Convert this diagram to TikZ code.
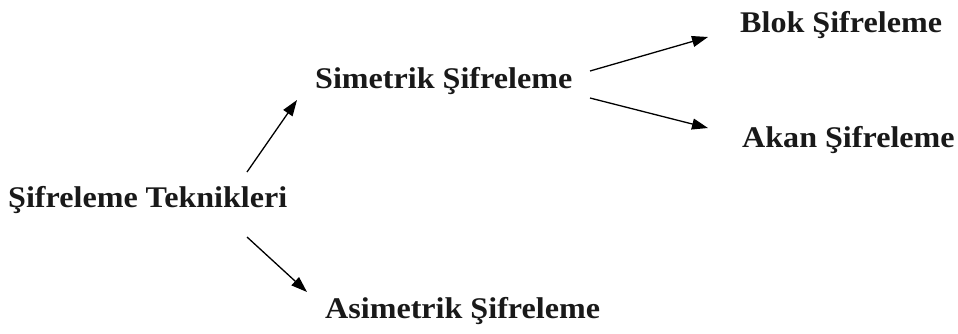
\documentclass[tikz,border=0pt]{standalone}
\usepackage{fontspec}
\setmainfont{Liberation Serif}[FakeStretch=1.07]
\usepackage{tikz}
\usetikzlibrary{arrows.meta}

\begin{document}
\begin{tikzpicture}[x=1pt,y=-1pt]
    \tikzstyle{n} = [inner sep=0pt,anchor=base west,text=black!90,font=\fontsize{30}{36}\selectfont\bfseries]
    \tikzstyle{r} = [draw,line width=1.3pt,-{Triangle[length=16pt,width=11pt]}]
    \useasboundingbox (0,0) rectangle (958,333);
    \node [n] (st)   at (8,207)   {Şifreleme Teknikleri};
    \node [n] (sim)  at (315,88)  {Simetrik Şifreleme};
    \node [n] (asim) at (325,318) {Asimetrik Şifreleme};
    \node [n] (blok) at (740,32)  {Blok Şifreleme};
    \node [n] (akan) at (742,147) {Akan Şifreleme};
    \path [r] ([shift={(239,-35)}]st.base west) to ([shift={(-18,12)}]sim.base west);
    \path [r] ([shift={(239,30)}]st.base west) to ([shift={(-18,-26)}]asim.base west);
    \path [r] ([shift={(275,-17)}]sim.base west) to ([shift={(-32,5)}]blok.base west);
    \path [r] ([shift={(275,10)}]sim.base west) to ([shift={(-34,-19)}]akan.base west);
  \end{tikzpicture}
\end{document}
